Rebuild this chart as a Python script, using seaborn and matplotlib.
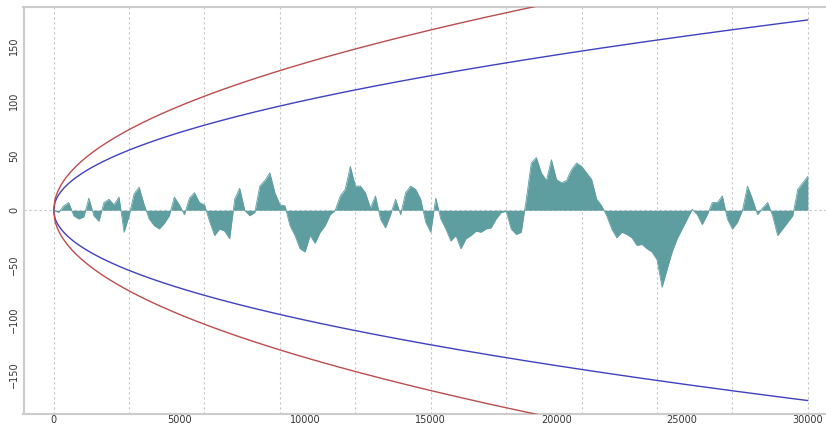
import numpy as np
import pandas as pd
import matplotlib
matplotlib.use("Agg")
import matplotlib.pyplot as plt
import seaborn as sns

# Random-walk position sampled every 200 steps
step_size = 200
walk = [
    0, -2, 4, 7, -5, -8, -6, 11, -5, -10,
    7, 10, 5, 12, -20, -5, 15, 21, 5, -8,
    -14, -17, -12, -5, 12, 5, -4, 11, 16, 7,
    5, -10, -23, -17, -19, -26, 10, 20, 0, -5,
    -2, 22, 27, 34, 16, 5, 4, -14, -23, -35,
    -38, -23, -30, -20, -14, -4, 0, 13, 19, 40,
    22, 22, 16, 2, 13, -8, -16, -4, 10, -4,
    16, 22, 19, 10, -11, -20, 11, -8, -17, -28,
    -23, -35, -26, -23, -19, -20, -17, -16, -8, -2,
    -1, -17, -22, -20, 10, 43, 48, 34, 27, 46,
    28, 25, 27, 37, 43, 40, 34, 28, 10, 4,
    -5, -17, -25, -20, -22, -25, -32, -31, -35, -38,
    -45, -70, -54, -38, -26, -17, -8, 1, -4, -13,
    -4, 7, 7, 13, -8, -17, -11, 0, 22, 10,
    -4, 2, 7, -5, -23, -17, -11, -5, 19, 25,
    31,
]
steps = np.arange(len(walk)) * step_size

# Envelope multipliers applied to sqrt(n)
inner_scale = 1.0
outer_scale = 1.34

n = np.arange(0, steps[-1] + 1, 50)
env = pd.DataFrame({
    "n": np.concatenate([n, n, n, n]),
    "bound": np.concatenate([inner_scale * np.sqrt(n), -inner_scale * np.sqrt(n),
                             outer_scale * np.sqrt(n), -outer_scale * np.sqrt(n)]),
    "curve": ["inner+"] * len(n) + ["inner-"] * len(n) + ["outer+"] * len(n) + ["outer-"] * len(n),
})

sns.set_style("white")
fig = plt.figure(figsize=(8.26, 4.24), dpi=100)
ax = fig.add_axes([23.5 / 826, 10.5 / 424, (838 - 23.5) / 826, 406.5 / 424])

fill_color = "#5f9ea0"
ax.fill_between(steps, walk, 0, color=fill_color, lw=0, zorder=2)
sns.lineplot(x=steps, y=walk, color=fill_color, lw=0.6, ax=ax, zorder=2)

palette = {"inner+": "#4040c0", "inner-": "#4040c0", "outer+": "#bb4d4d", "outer-": "#bb4d4d"}
sns.lineplot(data=env, x="n", y="bound", hue="curve", palette=palette,
             estimator=None, lw=1.0, legend=False, ax=ax, zorder=3)

ax.set_xlim(-1200, 31200)
ax.set_ylim(-185, 185)

grid_kw = dict(color="#c4c4c4", lw=0.8, ls=(0, (2, 2.5)), zorder=1)
for gx in range(0, 30001, 3000):
    ax.axvline(gx, **grid_kw)
ax.axhline(0, **grid_kw)

ax.set_xticks(range(0, 30001, 5000))
ax.set_yticks(range(-150, 151, 50))
ax.tick_params(axis="both", length=0, labelsize=7, colors="#333333", pad=1)
ax.tick_params(axis="y", labelrotation=90, pad=3)
for lbl in ax.get_yticklabels():
    lbl.set_va("center")
ax.set_xlabel("")
ax.set_ylabel("")

for side in ["left", "bottom", "top"]:
    ax.spines[side].set_color("#cccccc")
    ax.spines[side].set_linewidth(1.5)
ax.spines["right"].set_visible(False)

fig.savefig("out.png", dpi=100)
